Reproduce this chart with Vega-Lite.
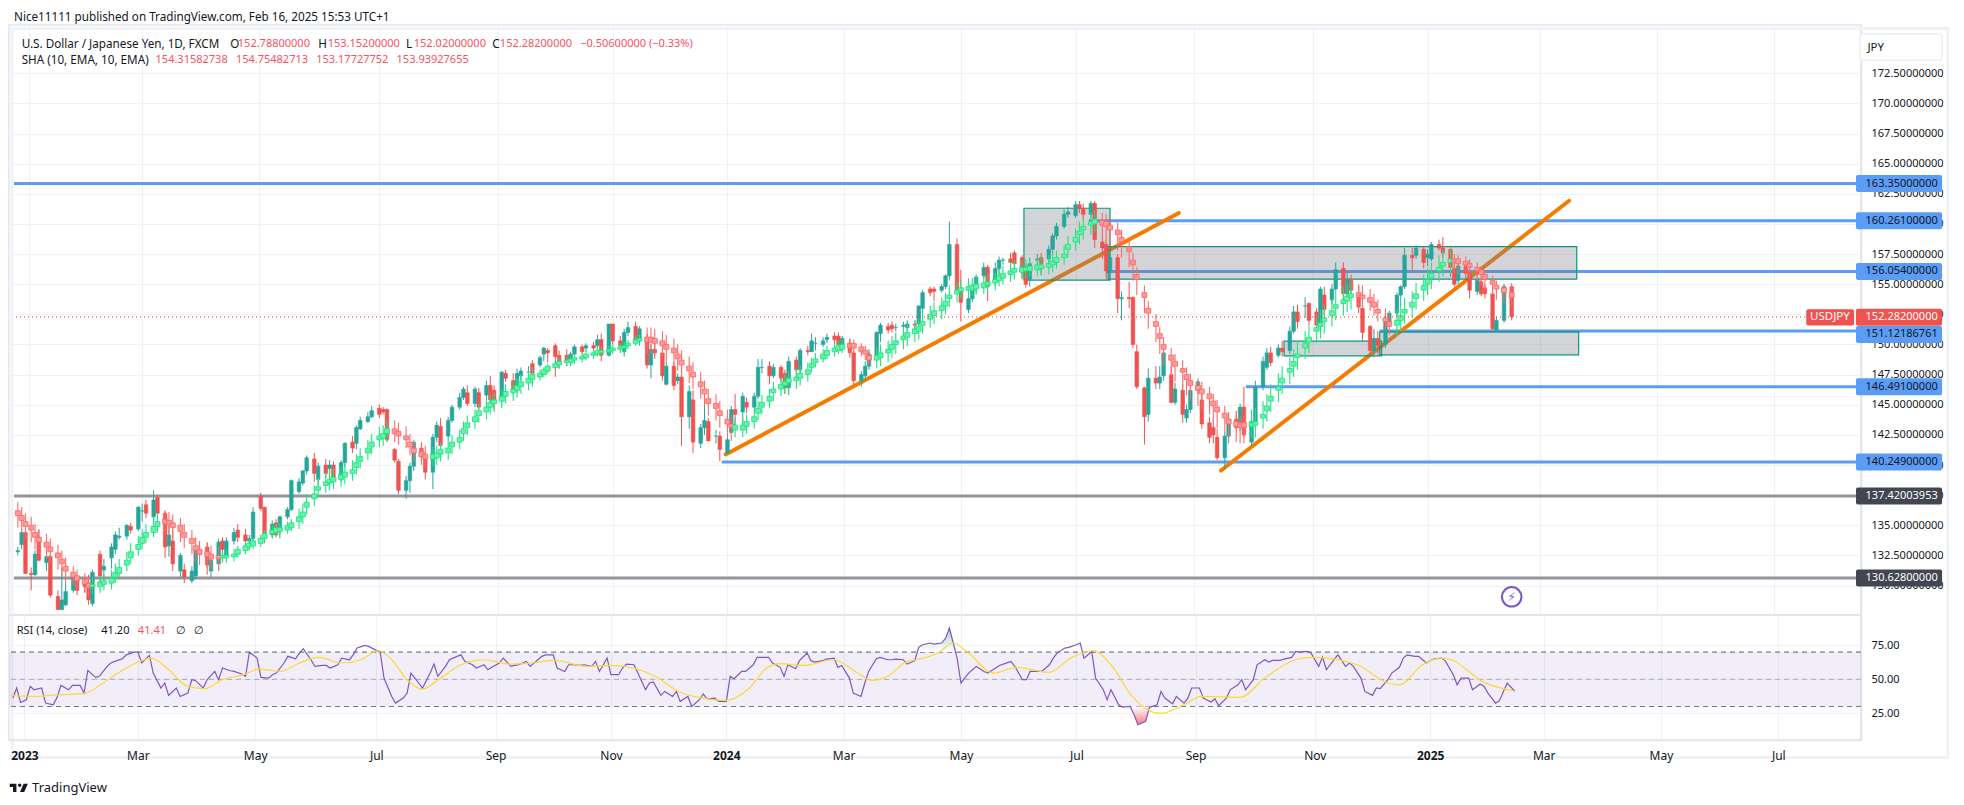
{"$schema":"https://vega.github.io/schema/vega-lite/v6.json","padding":{"left":7,"top":11,"right":0,"bottom":0},"background":"white","spacing":0,"bounds":"flush",
"config":{"view":{"stroke":"#e0e3eb","strokeWidth":1.5},"font":"Noto Sans","axis":{"labelFont":"Noto Sans"}},
"datasets":{
"bars":[
{"d":"2022-12-26","o":132.8,"h":133.2,"l":132.5,"c":132.9,"a":136.2,"e":135.8,"g":136.9,"k":134.8,"r":36.2},
{"d":"2022-12-28","o":133.4,"h":134.5,"l":133,"c":134.4,"a":135.8,"e":135.4,"g":136.5,"k":134.4,"r":43.6},
{"d":"2022-12-30","o":134.4,"h":134.5,"l":131,"c":131,"a":135.3,"e":134.9,"g":136,"k":133.9,"r":33},
{"d":"2023-01-02","o":131,"h":131.5,"l":129.6,"c":130.9,"a":135,"e":134.6,"g":135.7,"k":133.6,"r":35},
{"d":"2023-01-04","o":130.9,"h":132.9,"l":130.8,"c":132.6,"a":134.4,"e":134,"g":135.1,"k":133,"r":44.8},
{"d":"2023-01-06","o":134,"h":134.6,"l":132,"c":132.1,"a":134,"e":133.6,"g":134.7,"k":132.6,"r":42.3},
{"d":"2023-01-10","o":131.9,"h":132.6,"l":131.2,"c":132.4,"a":133.6,"e":133.2,"g":134.3,"k":132.2,"r":43.6},
{"d":"2023-01-12","o":132.4,"h":132.6,"l":129,"c":129.2,"a":133.2,"e":132.8,"g":133.9,"k":131.8,"r":32.5},
{"d":"2023-01-16","o":129.1,"h":129.6,"l":128,"c":128,"a":132.7,"e":132.3,"g":133.4,"k":131.3,"r":31.3},
{"d":"2023-01-18","o":128,"h":131.5,"l":128,"c":128.8,"a":132.2,"e":131.8,"g":132.9,"k":130.8,"r":36.7},
{"d":"2023-01-20","o":128.4,"h":130.2,"l":128.3,"c":129.5,"a":131.6,"e":131.2,"g":132.3,"k":130.2,"r":45.5},
{"d":"2023-01-24","o":129.6,"h":131,"l":129.4,"c":130.7,"a":131.1,"e":130.7,"g":131.6,"k":130,"r":42.3},
{"d":"2023-01-26","o":130.4,"h":130.8,"l":129.2,"c":129.6,"a":130.8,"e":130.4,"g":131.3,"k":129.7,"r":45.5},
{"d":"2023-01-30","o":130.2,"h":130.6,"l":129.4,"c":129.9,"a":130.5,"e":130.1,"g":131,"k":129.4,"r":45.5},
{"d":"2023-02-01","o":130.2,"h":130.9,"l":128.4,"c":128.8,"a":130.2,"e":129.8,"g":130.7,"k":129.1,"r":39.9},
{"d":"2023-02-03","o":128.5,"h":131.3,"l":128.3,"c":131.1,"a":129.9,"e":130.1,"g":130.7,"k":129.3,"r":56.6},
{"d":"2023-02-07","o":132.6,"h":132.9,"l":130,"c":130.8,"a":129.9,"e":130.3,"g":130.8,"k":129.4,"r":51.4},
{"d":"2023-02-09","o":131.3,"h":132.2,"l":130.2,"c":131.6,"a":130.1,"e":130.4,"g":130.9,"k":129.6,"r":52.2},
{"d":"2023-02-13","o":132.3,"h":133.5,"l":131.4,"c":133.2,"a":130.2,"e":130.6,"g":131.3,"k":129.7,"r":59.5},
{"d":"2023-02-15","o":133,"h":134.5,"l":132.6,"c":134.2,"a":130.7,"e":131.1,"g":131.8,"k":130.2,"r":62},
{"d":"2023-02-17","o":134,"h":134.8,"l":133.8,"c":134.1,"a":131,"e":131.5,"g":132.2,"k":130.6,"r":63.2},
{"d":"2023-02-21","o":134.1,"h":135.1,"l":133.8,"c":135,"a":131.7,"e":132.1,"g":132.8,"k":131.2,"r":65.1},
{"d":"2023-02-23","o":134.9,"h":135.2,"l":134.3,"c":134.6,"a":132.3,"e":132.8,"g":133.5,"k":131.8,"r":68},
{"d":"2023-02-27","o":134.7,"h":136.6,"l":134.5,"c":136.5,"a":133,"e":133.4,"g":134.1,"k":132.5,"r":70},
{"d":"2023-03-01","o":136.2,"h":136.8,"l":135.3,"c":136.2,"a":133.5,"e":134,"g":134.7,"k":133,"r":70},
{"d":"2023-03-03","o":136.7,"h":137.1,"l":135.6,"c":136,"a":134,"e":134.4,"g":135.1,"k":133.5,"r":62},
{"d":"2023-03-07","o":135.7,"h":137.9,"l":135.4,"c":137.1,"a":134.4,"e":134.9,"g":135.6,"k":134,"r":67.6},
{"d":"2023-03-09","o":137.3,"h":137.5,"l":135.9,"c":136,"a":134.9,"e":135.3,"g":136,"k":134.4,"r":54.6},
{"d":"2023-03-13","o":136,"h":136.2,"l":132.3,"c":133.2,"a":135.5,"e":135.1,"g":136.2,"k":134.2,"r":43.6},
{"d":"2023-03-15","o":133.3,"h":135,"l":132.4,"c":134.2,"a":135.4,"e":135.1,"g":136.1,"k":134.1,"r":47.3},
{"d":"2023-03-17","o":133.7,"h":134.6,"l":131.2,"c":131.8,"a":135.2,"e":134.8,"g":135.9,"k":133.9,"r":38.2},
{"d":"2023-03-21","o":131.2,"h":132.7,"l":130.7,"c":132.5,"a":135,"e":134.5,"g":135.6,"k":133.6,"r":43.6},
{"d":"2023-03-23","o":131.3,"h":131.8,"l":130.2,"c":130.7,"a":134.4,"e":134,"g":135.1,"k":133.1,"r":37.4},
{"d":"2023-03-27","o":130.4,"h":131.6,"l":130.2,"c":131.2,"a":133.9,"e":133.5,"g":134.6,"k":132.6,"r":39.9},
{"d":"2023-03-29","o":130.8,"h":133,"l":130.5,"c":132.9,"a":133.3,"e":132.9,"g":134,"k":132,"r":49.7},
{"d":"2023-03-31","o":132.9,"h":133.6,"l":132.2,"c":132.6,"a":133,"e":132.6,"g":133.7,"k":131.7,"r":49},
{"d":"2023-04-04","o":133.2,"h":133.6,"l":130.9,"c":131.7,"a":132.8,"e":132.4,"g":133.5,"k":131.5,"r":43.6},
{"d":"2023-04-06","o":131.2,"h":132.5,"l":130.7,"c":132.1,"a":132.6,"e":132.2,"g":133.3,"k":131.3,"r":49.7},
{"d":"2023-04-10","o":131.8,"h":133.9,"l":131.3,"c":133.6,"a":132.5,"e":132.2,"g":133.2,"k":131.2,"r":55.8},
{"d":"2023-04-12","o":133.7,"h":134,"l":132.5,"c":133,"a":132.3,"e":132.5,"g":132.9,"k":131.9,"r":49.7},
{"d":"2023-04-14","o":132.5,"h":134,"l":132.2,"c":133.7,"a":132.3,"e":132.5,"g":132.9,"k":131.9,"r":58.3},
{"d":"2023-04-18","o":133.7,"h":134.8,"l":133.4,"c":134.4,"a":132.4,"e":132.6,"g":133,"k":132,"r":56.3},
{"d":"2023-04-20","o":134.6,"h":135.1,"l":133.6,"c":134,"a":132.6,"e":133,"g":133.3,"k":132.3,"r":55.8},
{"d":"2023-04-24","o":134.2,"h":134.7,"l":133.3,"c":133.7,"a":132.9,"e":133.3,"g":133.6,"k":132.6,"r":53.9},
{"d":"2023-04-26","o":133.7,"h":134.2,"l":133,"c":133.9,"a":133.2,"e":133.5,"g":133.9,"k":132.9,"r":52.2},
{"d":"2023-04-28","o":133.9,"h":136.5,"l":133.6,"c":136.1,"a":133.3,"e":133.7,"g":134,"k":133,"r":70},
{"d":"2023-05-02","o":137.4,"h":137.7,"l":136.2,"c":136.4,"a":133.5,"e":133.9,"g":134.2,"k":133.2,"r":65.6},
{"d":"2023-05-04","o":136.5,"h":136.5,"l":133.5,"c":134.1,"a":133.9,"e":134.3,"g":134.6,"k":133.6,"r":51.4},
{"d":"2023-05-08","o":134.2,"h":135.4,"l":133.9,"c":135.1,"a":134.3,"e":134.6,"g":135,"k":134,"r":50.9},
{"d":"2023-05-10","o":135.2,"h":135.5,"l":134,"c":134.2,"a":134.4,"e":134.8,"g":135.1,"k":134.1,"r":53.4},
{"d":"2023-05-12","o":134.6,"h":135.8,"l":133.9,"c":135.7,"a":134.5,"e":134.8,"g":135.2,"k":134.2,"r":54.6},
{"d":"2023-05-16","o":135.7,"h":136.5,"l":135.5,"c":136.3,"a":134.6,"e":135,"g":135.3,"k":134.3,"r":62},
{"d":"2023-05-18","o":136.3,"h":138.8,"l":136.2,"c":138.7,"a":134.8,"e":135.2,"g":135.5,"k":134.5,"r":66.9},
{"d":"2023-05-22","o":137.8,"h":138.9,"l":137.6,"c":138.6,"a":135.3,"e":135.7,"g":136.4,"k":134.7,"r":65.1},
{"d":"2023-05-24","o":138.5,"h":139.6,"l":138.3,"c":139.5,"a":135.7,"e":136.1,"g":136.8,"k":135.1,"r":69.3},
{"d":"2023-05-26","o":139.5,"h":140.8,"l":139.2,"c":140.6,"a":136.5,"e":136.9,"g":137.6,"k":135.9,"r":72.5},
{"d":"2023-05-30","o":140.5,"h":141,"l":138.6,"c":139.3,"a":137.2,"e":137.6,"g":138.3,"k":136.6,"r":64.4},
{"d":"2023-06-01","o":138.8,"h":140.2,"l":138.3,"c":139.9,"a":137.9,"e":138.2,"g":139,"k":137.3,"r":59.5},
{"d":"2023-06-05","o":140,"h":140.5,"l":138.9,"c":139.3,"a":138.3,"e":138.6,"g":139.4,"k":137.7,"r":60.2},
{"d":"2023-06-07","o":139.7,"h":140.4,"l":138.9,"c":140,"a":138.5,"e":138.8,"g":139.6,"k":137.9,"r":60.2},
{"d":"2023-06-09","o":140,"h":140.3,"l":138.6,"c":138.8,"a":138.6,"e":139,"g":139.7,"k":138,"r":58.3},
{"d":"2023-06-13","o":138.9,"h":140.4,"l":138.6,"c":140.2,"a":138.8,"e":139.2,"g":139.9,"k":138.2,"r":60.7},
{"d":"2023-06-15","o":140.2,"h":141.9,"l":139.8,"c":141.8,"a":139,"e":139.4,"g":140.1,"k":138.4,"r":65.6},
{"d":"2023-06-19","o":141.9,"h":142.4,"l":141,"c":141.4,"a":139.3,"e":139.6,"g":140.4,"k":138.7,"r":64.4},
{"d":"2023-06-21","o":141.8,"h":143.3,"l":141.3,"c":143.1,"a":139.8,"e":140.2,"g":140.9,"k":139.2,"r":68},
{"d":"2023-06-23","o":143,"h":144,"l":142.9,"c":143.7,"a":140.3,"e":140.7,"g":141.4,"k":139.7,"r":73},
{"d":"2023-06-27","o":143.6,"h":144.4,"l":143.5,"c":144,"a":141,"e":141.4,"g":142.1,"k":140.4,"r":75},
{"d":"2023-06-29","o":144,"h":144.9,"l":143.9,"c":144.5,"a":141.5,"e":141.9,"g":142.6,"k":140.9,"r":74.2},
{"d":"2023-07-03","o":144.7,"h":145,"l":143.9,"c":144.2,"a":142.1,"e":142.4,"g":143.2,"k":141.5,"r":71.3},
{"d":"2023-07-05","o":144.6,"h":144.8,"l":144.2,"c":144.4,"a":142.2,"e":142.6,"g":143.3,"k":141.6,"r":70},
{"d":"2023-07-07","o":144.6,"h":144.7,"l":141.9,"c":142.1,"a":142.6,"e":143,"g":143.7,"k":142,"r":50.9},
{"d":"2023-07-11","o":141.3,"h":141.4,"l":140.2,"c":140.4,"a":143,"e":142.6,"g":143.7,"k":141.9,"r":37.4},
{"d":"2023-07-13","o":140.3,"h":140.5,"l":137.6,"c":137.9,"a":142.8,"e":142.4,"g":143.5,"k":141.7,"r":32.5},
{"d":"2023-07-17","o":137.9,"h":139.1,"l":137.2,"c":138.7,"a":142.4,"e":142.1,"g":143.2,"k":141.4,"r":36.2},
{"d":"2023-07-19","o":138.7,"h":140.2,"l":137.7,"c":139.9,"a":141.9,"e":141.5,"g":142.6,"k":140.8,"r":39.9},
{"d":"2023-07-21","o":139.9,"h":141.9,"l":139.5,"c":141.9,"a":141.4,"e":141,"g":142.1,"k":140.3,"r":54.6},
{"d":"2023-07-25","o":141.4,"h":141.9,"l":140.3,"c":140.8,"a":141.1,"e":140.7,"g":141.8,"k":140,"r":47.3},
{"d":"2023-07-27","o":140.8,"h":141.1,"l":138.8,"c":139.4,"a":140.9,"e":140.5,"g":141.6,"k":139.8,"r":43.6},
{"d":"2023-07-31","o":139.4,"h":142.6,"l":138,"c":142.3,"a":140.5,"e":140.9,"g":141.5,"k":139.9,"r":54.6},
{"d":"2023-08-02","o":142.3,"h":143.6,"l":141.9,"c":143.3,"a":140.6,"e":141,"g":141.6,"k":140,"r":61.2},
{"d":"2023-08-04","o":143.2,"h":143.9,"l":141.3,"c":141.6,"a":140.9,"e":141.3,"g":141.9,"k":140.3,"r":52.2},
{"d":"2023-08-08","o":142.4,"h":144,"l":142,"c":143.7,"a":141,"e":141.4,"g":142,"k":140.4,"r":59.5},
{"d":"2023-08-10","o":143.7,"h":145,"l":143.5,"c":144.8,"a":141.5,"e":141.9,"g":142.5,"k":140.9,"r":64.4},
{"d":"2023-08-14","o":144.8,"h":146,"l":144.6,"c":145.6,"a":141.9,"e":142.3,"g":142.9,"k":141.3,"r":66.9},
{"d":"2023-08-16","o":145.6,"h":146.5,"l":145.4,"c":146.3,"a":142.6,"e":143,"g":143.6,"k":142,"r":68},
{"d":"2023-08-18","o":146,"h":146.6,"l":144.9,"c":145.1,"a":143.1,"e":143.5,"g":144.1,"k":142.5,"r":63.2},
{"d":"2023-08-22","o":145.1,"h":146.5,"l":144.8,"c":146.3,"a":143.6,"e":144,"g":144.6,"k":143,"r":60.7},
{"d":"2023-08-24","o":146,"h":146.4,"l":144.6,"c":144.8,"a":144.1,"e":144.5,"g":145.1,"k":143.5,"r":58.3},
{"d":"2023-08-28","o":145.8,"h":147,"l":145.4,"c":146.6,"a":144.4,"e":144.8,"g":145.4,"k":143.8,"r":60.7},
{"d":"2023-08-30","o":146.6,"h":147.4,"l":145,"c":145.4,"a":144.8,"e":145.2,"g":145.8,"k":144.2,"r":57},
{"d":"2023-09-01","o":146.2,"h":146.6,"l":144.6,"c":145.4,"a":145.1,"e":145.4,"g":146,"k":144.4,"r":58.8},
{"d":"2023-09-05","o":145.4,"h":147.8,"l":145.2,"c":147.7,"a":145.3,"e":145.7,"g":146.3,"k":144.7,"r":62},
{"d":"2023-09-07","o":147.6,"h":147.9,"l":146.9,"c":147.2,"a":145.7,"e":146.1,"g":146.7,"k":145.1,"r":65.6},
{"d":"2023-09-11","o":147,"h":147.6,"l":145.8,"c":146.1,"a":146,"e":146.3,"g":146.9,"k":145.3,"r":59.5},
{"d":"2023-09-13","o":146.5,"h":148,"l":146,"c":147.6,"a":146.2,"e":146.6,"g":147.2,"k":145.6,"r":60.2},
{"d":"2023-09-15","o":147.4,"h":148.1,"l":147,"c":147.8,"a":146.5,"e":146.9,"g":147.5,"k":145.9,"r":60.7},
{"d":"2023-09-19","o":147.7,"h":148.2,"l":147.2,"c":147.7,"a":146.8,"e":147.2,"g":147.8,"k":146.2,"r":63.2},
{"d":"2023-09-21","o":148.4,"h":148.7,"l":146.7,"c":147.6,"a":147.1,"e":147.5,"g":148.1,"k":146.5,"r":59.5},
{"d":"2023-09-25","o":148.3,"h":149.1,"l":148.1,"c":148.9,"a":147.3,"e":147.6,"g":147.9,"k":147,"r":64.4},
{"d":"2023-09-27","o":149.2,"h":149.8,"l":148.6,"c":149.7,"a":147.5,"e":147.9,"g":148.1,"k":147.3,"r":66.9},
{"d":"2023-09-29","o":149.5,"h":149.7,"l":148.5,"c":149.3,"a":147.8,"e":148.2,"g":148.4,"k":147.6,"r":68},
{"d":"2023-10-03","o":149.9,"h":150.1,"l":147.3,"c":149,"a":148.1,"e":148.4,"g":148.7,"k":147.9,"r":68},
{"d":"2023-10-05","o":149.1,"h":149.5,"l":148,"c":148.4,"a":148.3,"e":148.6,"g":148.9,"k":148,"r":58.3},
{"d":"2023-10-09","o":149.1,"h":149.6,"l":148.2,"c":148.7,"a":148.5,"e":148.7,"g":149,"k":148.2,"r":55.8},
{"d":"2023-10-11","o":148.5,"h":149.4,"l":148.2,"c":149.2,"a":148.5,"e":148.8,"g":149.1,"k":148.3,"r":60.7},
{"d":"2023-10-13","o":149.2,"h":150,"l":149,"c":149.8,"a":148.7,"e":148.9,"g":149.2,"k":148.4,"r":60.7},
{"d":"2023-10-17","o":149.8,"h":150,"l":149.2,"c":149.4,"a":148.8,"e":149,"g":149.3,"k":148.5,"r":60.2},
{"d":"2023-10-19","o":149.7,"h":150.1,"l":149.4,"c":149.9,"a":148.9,"e":149.2,"g":149.5,"k":148.7,"r":60.7},
{"d":"2023-10-23","o":149.9,"h":150.2,"l":149.5,"c":149.7,"a":149.1,"e":149.3,"g":149.6,"k":148.8,"r":59.5},
{"d":"2023-10-25","o":149.9,"h":150.8,"l":149.6,"c":150.4,"a":149.2,"e":149.5,"g":149.8,"k":149,"r":63.2},
{"d":"2023-10-27","o":150.4,"h":150.9,"l":148.6,"c":149.1,"a":149.3,"e":149.5,"g":149.8,"k":149,"r":55.8},
{"d":"2023-10-31","o":149.1,"h":151.7,"l":149,"c":151.7,"a":149.4,"e":149.6,"g":149.9,"k":149.1,"r":65.6},
{"d":"2023-11-02","o":151.7,"h":151.7,"l":150,"c":150.3,"a":149.5,"e":149.7,"g":150,"k":149.2,"r":53.4},
{"d":"2023-11-06","o":150.3,"h":150.7,"l":149.3,"c":149.9,"a":149.6,"e":149.8,"g":150.1,"k":149.3,"r":53.4},
{"d":"2023-11-08","o":149.4,"h":151.3,"l":149,"c":151,"a":149.7,"e":149.9,"g":150.2,"k":149.4,"r":58.3},
{"d":"2023-11-10","o":151,"h":151.9,"l":150.7,"c":151.4,"a":149.9,"e":150.1,"g":150.4,"k":149.6,"r":61.2},
{"d":"2023-11-14","o":151.5,"h":151.9,"l":150,"c":150.3,"a":150.1,"e":150.4,"g":150.7,"k":149.9,"r":60.7},
{"d":"2023-11-16","o":150.3,"h":151.5,"l":149.9,"c":151.3,"a":150.3,"e":150.5,"g":150.8,"k":150,"r":54.6},
{"d":"2023-11-20","o":150.4,"h":150.9,"l":148,"c":148.3,"a":150.6,"e":150.2,"g":151.4,"k":149.2,"r":42.3},
{"d":"2023-11-22","o":148.3,"h":150,"l":147.2,"c":149.6,"a":150.6,"e":150.2,"g":151.4,"k":149.2,"r":47.3},
{"d":"2023-11-24","o":149.6,"h":150.1,"l":148.8,"c":149.3,"a":150.5,"e":150.1,"g":151.3,"k":149.1,"r":48},
{"d":"2023-11-28","o":149.3,"h":149.7,"l":147,"c":147.4,"a":150.3,"e":149.9,"g":151.1,"k":148.9,"r":38.2},
{"d":"2023-11-30","o":146.7,"h":148.6,"l":146.6,"c":148.2,"a":150,"e":149.6,"g":150.8,"k":148.6,"r":41.1},
{"d":"2023-12-04","o":148.2,"h":148.5,"l":146.2,"c":146.6,"a":149.7,"e":149.3,"g":150.5,"k":148.2,"r":37.4},
{"d":"2023-12-06","o":147,"h":147.6,"l":146.7,"c":147.3,"a":149.2,"e":148.8,"g":150,"k":147.8,"r":41.1},
{"d":"2023-12-08","o":147.3,"h":147.5,"l":141.6,"c":144,"a":148.7,"e":148.3,"g":149.5,"k":147.3,"r":33.8},
{"d":"2023-12-12","o":144,"h":146.6,"l":143,"c":146.1,"a":148.2,"e":147.8,"g":149,"k":146.8,"r":37.4},
{"d":"2023-12-14","o":145.4,"h":146.2,"l":141,"c":141.9,"a":147.7,"e":147.3,"g":148.5,"k":146.3,"r":30.1},
{"d":"2023-12-18","o":141.8,"h":143.4,"l":141.4,"c":143.1,"a":146.9,"e":146.5,"g":147.7,"k":145.5,"r":35},
{"d":"2023-12-20","o":143.1,"h":145,"l":142.5,"c":143.7,"a":146.3,"e":145.9,"g":147,"k":144.9,"r":39.2},
{"d":"2023-12-22","o":143.6,"h":143.9,"l":142,"c":142,"a":145.5,"e":145.1,"g":146.3,"k":144.1,"r":35.7},
{"d":"2023-12-26","o":142.4,"h":142.9,"l":141.8,"c":142.4,"a":145.1,"e":144.7,"g":145.9,"k":143.7,"r":36.2},
{"d":"2023-12-28","o":142.4,"h":142.8,"l":140.3,"c":141.3,"a":144.5,"e":144.1,"g":145.3,"k":143.1,"r":33.8},
{"d":"2024-01-01","o":141,"h":142.4,"l":140.9,"c":142.1,"a":143.8,"e":143.4,"g":144.6,"k":142.4,"r":33.8},
{"d":"2024-01-03","o":142.7,"h":144.9,"l":142.6,"c":144.6,"a":143.4,"e":143.1,"g":144.2,"k":142,"r":52.2},
{"d":"2024-01-05","o":144.6,"h":145.9,"l":143,"c":144.2,"a":142.9,"e":143.3,"g":143.9,"k":142.3,"r":50.4},
{"d":"2024-01-09","o":144.4,"h":146,"l":143.2,"c":145.7,"a":142.9,"e":143.3,"g":143.9,"k":142.3,"r":55.8},
{"d":"2024-01-11","o":145.2,"h":145.6,"l":144.3,"c":144.8,"a":143.2,"e":143.6,"g":144.2,"k":142.6,"r":55.8},
{"d":"2024-01-15","o":144.8,"h":146,"l":144.5,"c":145.7,"a":143.6,"e":144,"g":144.6,"k":143,"r":60.7},
{"d":"2024-01-17","o":145.7,"h":148.8,"l":145.5,"c":148.1,"a":144.3,"e":144.7,"g":145.3,"k":143.7,"r":66.1},
{"d":"2024-01-19","o":148.1,"h":148.8,"l":147.6,"c":148.1,"a":144.8,"e":145.2,"g":145.8,"k":144.2,"r":66.1},
{"d":"2024-01-23","o":148.2,"h":148.6,"l":146.7,"c":147.4,"a":145.3,"e":145.7,"g":146.3,"k":144.7,"r":66.1},
{"d":"2024-01-25","o":147.4,"h":148.4,"l":147.2,"c":148.1,"a":146,"e":146.3,"g":146.9,"k":145.3,"r":62},
{"d":"2024-01-29","o":148.1,"h":148.3,"l":146.9,"c":147.2,"a":146.3,"e":146.7,"g":147.3,"k":145.7,"r":58.8},
{"d":"2024-01-31","o":147.6,"h":147.9,"l":145.9,"c":146.4,"a":146.6,"e":146.9,"g":147.5,"k":145.9,"r":52.2},
{"d":"2024-02-02","o":146.4,"h":149,"l":145.8,"c":148.6,"a":146.8,"e":147.2,"g":147.8,"k":146.2,"r":60.7},
{"d":"2024-02-06","o":148.7,"h":149,"l":147.4,"c":147.9,"a":147,"e":147.3,"g":148,"k":146.3,"r":57.8},
{"d":"2024-02-08","o":147.9,"h":149.7,"l":147.5,"c":149.5,"a":147.2,"e":147.6,"g":148.2,"k":146.6,"r":63.7},
{"d":"2024-02-12","o":149.5,"h":149.9,"l":149.1,"c":149.4,"a":147.5,"e":147.9,"g":148.5,"k":146.9,"r":69.3},
{"d":"2024-02-14","o":149.4,"h":150.9,"l":149.4,"c":150.3,"a":148.1,"e":148.4,"g":148.9,"k":147.7,"r":63.7},
{"d":"2024-02-16","o":150.1,"h":150.6,"l":149.5,"c":150.1,"a":148.5,"e":148.8,"g":149.3,"k":148.1,"r":62.7},
{"d":"2024-02-20","o":150,"h":150.6,"l":149.8,"c":150.3,"a":148.8,"e":149.2,"g":149.6,"k":148.5,"r":63.7},
{"d":"2024-02-22","o":150.4,"h":150.9,"l":150.1,"c":150.6,"a":149.1,"e":149.5,"g":149.9,"k":148.8,"r":64.9},
{"d":"2024-02-26","o":150.7,"h":151,"l":150,"c":150.4,"a":149.4,"e":149.7,"g":150.1,"k":149,"r":65.6},
{"d":"2024-02-28","o":150.7,"h":151,"l":149.9,"c":150,"a":149.5,"e":149.9,"g":150.3,"k":149.2,"r":58.8},
{"d":"2024-03-01","o":150,"h":150.7,"l":149.5,"c":150.5,"a":149.6,"e":150,"g":150.4,"k":149.3,"r":60.2},
{"d":"2024-03-05","o":150.1,"h":150.5,"l":148.9,"c":149.3,"a":150.1,"e":149.7,"g":150.4,"k":149.3,"r":50.9},
{"d":"2024-03-07","o":149.3,"h":149.5,"l":146.6,"c":147,"a":150.1,"e":149.7,"g":150.4,"k":149.3,"r":39.9},
{"d":"2024-03-11","o":147,"h":147.8,"l":146.5,"c":147.5,"a":149.8,"e":149.4,"g":150.1,"k":149,"r":37.4},
{"d":"2024-03-13","o":147.4,"h":148.6,"l":147,"c":148.2,"a":149.5,"e":149.2,"g":149.9,"k":148.7,"r":47.3},
{"d":"2024-03-15","o":148.2,"h":149.6,"l":147.9,"c":149.2,"a":149.1,"e":148.7,"g":149.4,"k":148.3,"r":55.8},
{"d":"2024-03-19","o":149.1,"h":151.1,"l":148.8,"c":151,"a":148.7,"e":149.1,"g":149.8,"k":148,"r":65.1},
{"d":"2024-03-21","o":150.9,"h":151.8,"l":150.2,"c":151.6,"a":148.9,"e":149.3,"g":150,"k":148.2,"r":66.1},
{"d":"2024-03-25","o":151.5,"h":151.8,"l":150.9,"c":151.2,"a":149.3,"e":149.6,"g":150.3,"k":148.5,"r":64.4},
{"d":"2024-03-27","o":151.6,"h":151.9,"l":151,"c":151.3,"a":149.6,"e":150,"g":150.7,"k":148.9,"r":64.4},
{"d":"2024-03-29","o":151.4,"h":151.7,"l":151.1,"c":151.4,"a":150,"e":150.3,"g":151,"k":149.2,"r":64.9},
{"d":"2024-04-02","o":151.5,"h":151.9,"l":151.2,"c":151.6,"a":150.4,"e":150.7,"g":151.4,"k":149.6,"r":64.4},
{"d":"2024-04-04","o":151.4,"h":152,"l":150.9,"c":151.7,"a":150.6,"e":151,"g":151.7,"k":149.9,"r":61.2},
{"d":"2024-04-08","o":151.7,"h":152,"l":151.3,"c":151.6,"a":150.9,"e":151.3,"g":152,"k":150.2,"r":63.7},
{"d":"2024-04-10","o":151.7,"h":153.2,"l":151.5,"c":153.2,"a":151.1,"e":151.5,"g":152.2,"k":150.4,"r":73.5},
{"d":"2024-04-12","o":153,"h":154.5,"l":152.6,"c":154.3,"a":151.6,"e":151.9,"g":152.7,"k":150.9,"r":75.4},
{"d":"2024-04-16","o":154.6,"h":154.8,"l":154,"c":154.3,"a":152.1,"e":152.5,"g":153.2,"k":151.4,"r":76.7},
{"d":"2024-04-18","o":154.6,"h":154.8,"l":153.6,"c":154.4,"a":152.4,"e":152.8,"g":153.5,"k":151.7,"r":75.9},
{"d":"2024-04-22","o":154.5,"h":155,"l":154.3,"c":154.8,"a":152.8,"e":153.2,"g":153.9,"k":152.1,"r":76.7},
{"d":"2024-04-24","o":154.8,"h":155.8,"l":154.6,"c":155.7,"a":153.2,"e":153.6,"g":154.3,"k":152.5,"r":80.3},
{"d":"2024-04-26","o":155.7,"h":160.2,"l":155.3,"c":158.3,"a":153.8,"e":154.1,"g":154.9,"k":153.1,"r":87.7},
{"d":"2024-04-30","o":158.3,"h":158.8,"l":154.5,"c":154.5,"a":154.2,"e":154.5,"g":155.2,"k":153.5,"r":65.6},
{"d":"2024-05-02","o":154.6,"h":156.2,"l":151.9,"c":153.5,"a":154.4,"e":154.7,"g":155.4,"k":153.8,"r":47.3},
{"d":"2024-05-06","o":152.9,"h":154.2,"l":152.6,"c":153.8,"a":154.5,"e":154.8,"g":155.5,"k":153.9,"r":54.6},
{"d":"2024-05-08","o":153.8,"h":155,"l":153.5,"c":154.6,"a":154.5,"e":154.9,"g":155.5,"k":154,"r":57},
{"d":"2024-05-10","o":154.7,"h":155.8,"l":154.3,"c":155.6,"a":154.6,"e":155,"g":155.6,"k":154.1,"r":59.5},
{"d":"2024-05-14","o":155.7,"h":156.8,"l":155.5,"c":156.4,"a":154.7,"e":155.1,"g":155.7,"k":154.2,"r":55.8},
{"d":"2024-05-16","o":156.4,"h":156.6,"l":153.6,"c":154.8,"a":154.9,"e":155.2,"g":155.9,"k":154.3,"r":54.6},
{"d":"2024-05-20","o":155.2,"h":156.8,"l":154.9,"c":156.3,"a":155.1,"e":155.4,"g":156,"k":154.5,"r":58.3},
{"d":"2024-05-22","o":156.3,"h":157.3,"l":155.8,"c":157,"a":155.3,"e":155.7,"g":156.3,"k":154.8,"r":60.2},
{"d":"2024-05-24","o":157,"h":157.2,"l":156.6,"c":157,"a":155.5,"e":155.9,"g":156.5,"k":155,"r":61.2},
{"d":"2024-05-28","o":157.1,"h":157.6,"l":156.3,"c":156.8,"a":155.8,"e":156.1,"g":156.8,"k":155.2,"r":63.2},
{"d":"2024-05-30","o":157.6,"h":157.8,"l":156.2,"c":156.7,"a":156,"e":156.3,"g":157,"k":155.4,"r":59.5},
{"d":"2024-06-03","o":157.2,"h":157.4,"l":155.4,"c":156,"a":156,"e":156.4,"g":157,"k":155.5,"r":49.7},
{"d":"2024-06-05","o":156.1,"h":156.6,"l":154.7,"c":155,"a":156.1,"e":156.4,"g":157.1,"k":155.5,"r":49.7},
{"d":"2024-06-07","o":155.4,"h":157.2,"l":154.8,"c":156.7,"a":156.1,"e":156.5,"g":157.1,"k":155.6,"r":55.8},
{"d":"2024-06-11","o":157,"h":157.5,"l":156.6,"c":157.1,"a":156.2,"e":156.6,"g":157.2,"k":155.7,"r":55.8},
{"d":"2024-06-13","o":157.2,"h":157.6,"l":155.8,"c":156.7,"a":156.3,"e":156.6,"g":157.3,"k":155.7,"r":55.8},
{"d":"2024-06-17","o":157.1,"h":158.2,"l":156.8,"c":157.9,"a":156.4,"e":156.7,"g":157.4,"k":155.8,"r":60.7},
{"d":"2024-06-19","o":157.9,"h":159.2,"l":157.6,"c":159,"a":156.6,"e":156.9,"g":157.6,"k":156,"r":65.6},
{"d":"2024-06-21","o":159,"h":160.1,"l":158.7,"c":159.8,"a":156.8,"e":157.2,"g":157.8,"k":156.3,"r":69.3},
{"d":"2024-06-25","o":159.8,"h":161.2,"l":159.6,"c":160.8,"a":157.2,"e":157.5,"g":158.2,"k":156.6,"r":73},
{"d":"2024-06-27","o":160.8,"h":161.4,"l":160.5,"c":161,"a":157.9,"e":158.3,"g":159,"k":157.2,"r":73.5},
{"d":"2024-07-01","o":160.7,"h":161.9,"l":160.5,"c":161.6,"a":158.5,"e":158.9,"g":159.6,"k":157.8,"r":75.4},
{"d":"2024-07-03","o":161.6,"h":161.9,"l":160.9,"c":161.3,"a":159.1,"e":159.4,"g":160.2,"k":158.3,"r":76.7},
{"d":"2024-07-05","o":161.3,"h":161.7,"l":160.3,"c":160.8,"a":159.5,"e":159.8,"g":160.5,"k":158.7,"r":65.6},
{"d":"2024-07-09","o":160.8,"h":161.9,"l":160.5,"c":161.7,"a":159.9,"e":160.2,"g":161,"k":159.1,"r":70.5},
{"d":"2024-07-11","o":161.7,"h":161.9,"l":158,"c":158.7,"a":160,"e":160.4,"g":161.1,"k":159.3,"r":50.9},
{"d":"2024-07-15","o":158.5,"h":158.9,"l":157.1,"c":158,"a":160.3,"e":159.9,"g":160.9,"k":158.6,"r":42.3},
{"d":"2024-07-17","o":158.3,"h":158.7,"l":155.3,"c":156.1,"a":160.2,"e":159.8,"g":160.8,"k":158.5,"r":35},
{"d":"2024-07-19","o":156.1,"h":157.6,"l":155.8,"c":157.2,"a":159.9,"e":159.5,"g":160.5,"k":158.2,"r":42.3},
{"d":"2024-07-23","o":157.2,"h":157.5,"l":152.6,"c":153.8,"a":159.5,"e":159.1,"g":160.1,"k":157.8,"r":31.3},
{"d":"2024-07-25","o":153.8,"h":154.4,"l":152,"c":153.9,"a":158.9,"e":158.5,"g":159.5,"k":157.2,"r":29.6},
{"d":"2024-07-29","o":153.9,"h":155.2,"l":153,"c":153.8,"a":158.1,"e":157.7,"g":158.7,"k":156.4,"r":30.1},
{"d":"2024-07-31","o":153.9,"h":154,"l":149.7,"c":150,"a":157,"e":156.6,"g":157.6,"k":155.3,"r":24},
{"d":"2024-08-02","o":149.4,"h":150,"l":146.3,"c":146.5,"a":155.8,"e":155.4,"g":156.4,"k":154.1,"r":16.6},
{"d":"2024-08-06","o":146.4,"h":146.5,"l":141.7,"c":144,"a":154.3,"e":153.9,"g":154.9,"k":152.6,"r":19.1},
{"d":"2024-08-08","o":144.2,"h":148,"l":143.6,"c":147.2,"a":153,"e":152.6,"g":153.6,"k":151.3,"r":29.4},
{"d":"2024-08-12","o":147.2,"h":148.2,"l":146.3,"c":146.8,"a":151.9,"e":151.5,"g":152.5,"k":150.2,"r":31.3},
{"d":"2024-08-14","o":146.8,"h":148.2,"l":146.3,"c":147.3,"a":150.9,"e":150.5,"g":151.5,"k":149.2,"r":41.1},
{"d":"2024-08-16","o":147.4,"h":149.6,"l":147,"c":149.3,"a":150,"e":149.6,"g":150.6,"k":148.3,"r":36.2},
{"d":"2024-08-20","o":147.5,"h":148.2,"l":145.1,"c":145.2,"a":149.1,"e":148.7,"g":149.7,"k":147.4,"r":32},
{"d":"2024-08-22","o":145.2,"h":146.8,"l":145,"c":146.3,"a":148.6,"e":148.2,"g":149.2,"k":146.9,"r":37.4},
{"d":"2024-08-26","o":146.2,"h":146.7,"l":143.5,"c":144.2,"a":148,"e":147.7,"g":148.7,"k":146.4,"r":32.5},
{"d":"2024-08-28","o":143.9,"h":145,"l":143.5,"c":144.6,"a":147.5,"e":147.1,"g":148.1,"k":145.8,"r":36.2},
{"d":"2024-08-30","o":144.6,"h":146.7,"l":144.3,"c":146.2,"a":147,"e":146.6,"g":147.6,"k":145.3,"r":43.6},
{"d":"2024-09-03","o":146.2,"h":147,"l":145.9,"c":146.9,"a":146.6,"e":146.2,"g":147.2,"k":144.9,"r":43.6},
{"d":"2024-09-05","o":145.4,"h":146,"l":143,"c":143.4,"a":146.3,"e":145.9,"g":146.9,"k":144.6,"r":36.2},
{"d":"2024-09-09","o":143.5,"h":144,"l":141.8,"c":142.3,"a":145.9,"e":145.5,"g":146.5,"k":144.2,"r":33.3},
{"d":"2024-09-11","o":143.1,"h":143.8,"l":141.8,"c":142.5,"a":145.3,"e":144.9,"g":145.9,"k":143.6,"r":35.7},
{"d":"2024-09-13","o":142.3,"h":143,"l":140.4,"c":140.6,"a":144.8,"e":144.4,"g":145.4,"k":143.1,"r":30.6},
{"d":"2024-09-17","o":140.6,"h":142.7,"l":139.6,"c":142.4,"a":144.3,"e":143.9,"g":144.9,"k":142.6,"r":36.2},
{"d":"2024-09-19","o":142.4,"h":144.2,"l":141.8,"c":143.8,"a":143.8,"e":143.4,"g":144.4,"k":142.1,"r":42.3},
{"d":"2024-09-23","o":143.8,"h":144.5,"l":142.8,"c":143.1,"a":143.6,"e":143.2,"g":144.2,"k":141.9,"r":46},
{"d":"2024-09-25","o":143.1,"h":145.1,"l":142.8,"c":144.8,"a":143.5,"e":143.1,"g":144.1,"k":141.8,"r":49.7},
{"d":"2024-09-27","o":144.8,"h":146.5,"l":142.3,"c":142.5,"a":143.5,"e":143.1,"g":144.1,"k":141.8,"r":42.3},
{"d":"2024-10-01","o":141.9,"h":144.2,"l":141.6,"c":143.6,"a":143.2,"e":143.5,"g":144.6,"k":142.2,"r":49.7},
{"d":"2024-10-03","o":143.6,"h":147,"l":143.3,"c":146.5,"a":143.3,"e":143.6,"g":144.7,"k":142.3,"r":60.7},
{"d":"2024-10-07","o":146.5,"h":149,"l":146.2,"c":148.6,"a":143.9,"e":144.2,"g":145.3,"k":143,"r":64.4},
{"d":"2024-10-09","o":148.1,"h":149.7,"l":147.9,"c":149.3,"a":144.5,"e":144.9,"g":145.9,"k":143.6,"r":62.7},
{"d":"2024-10-11","o":149.3,"h":149.8,"l":148.2,"c":148.5,"a":145.3,"e":145.7,"g":146.7,"k":144.4,"r":63.9},
{"d":"2024-10-15","o":149.1,"h":150,"l":148.9,"c":149.7,"a":146.2,"e":146.5,"g":147.6,"k":145.2,"r":63.9},
{"d":"2024-10-17","o":149.7,"h":150.3,"l":149,"c":149.4,"a":146.8,"e":147.2,"g":148.2,"k":145.9,"r":64.9},
{"d":"2024-10-21","o":149.5,"h":151.5,"l":149.2,"c":151.1,"a":147.7,"e":148,"g":149,"k":146.7,"r":66.1},
{"d":"2024-10-23","o":151.1,"h":153.2,"l":150.9,"c":152.7,"a":148.2,"e":148.6,"g":149.6,"k":147.3,"r":70.5},
{"d":"2024-10-25","o":152.7,"h":153.3,"l":151.3,"c":151.9,"a":148.9,"e":149.2,"g":150.3,"k":147.9,"r":70},
{"d":"2024-10-29","o":153.2,"h":153.9,"l":152.2,"c":153.2,"a":149.7,"e":150.1,"g":151.1,"k":148.8,"r":70.5},
{"d":"2024-10-31","o":153.4,"h":153.5,"l":151.6,"c":152,"a":150.2,"e":150.6,"g":151.6,"k":149.3,"r":69.3},
{"d":"2024-11-04","o":152.7,"h":153,"l":151.4,"c":151.6,"a":151.1,"e":151.4,"g":152.5,"k":150.1,"r":59.5},
{"d":"2024-11-06","o":151.5,"h":154.8,"l":151.2,"c":154.6,"a":151.5,"e":151.8,"g":152.9,"k":150.5,"r":66.4},
{"d":"2024-11-08","o":154.1,"h":154.8,"l":152.4,"c":152.9,"a":151.9,"e":152.2,"g":153.3,"k":150.9,"r":57},
{"d":"2024-11-12","o":153.7,"h":155,"l":153.3,"c":154.6,"a":152.4,"e":152.8,"g":153.8,"k":151.5,"r":64.4},
{"d":"2024-11-14","o":154.6,"h":156.8,"l":154.4,"c":156.2,"a":153,"e":153.3,"g":154.4,"k":152,"r":68},
{"d":"2024-11-18","o":156.3,"h":156.8,"l":153.7,"c":154.2,"a":153.4,"e":153.7,"g":154.8,"k":152.4,"r":59.5},
{"d":"2024-11-20","o":154.2,"h":156,"l":153.9,"c":155.4,"a":153.6,"e":154,"g":155,"k":152.7,"r":62},
{"d":"2024-11-22","o":155.4,"h":155.8,"l":154,"c":154.5,"a":153.9,"e":154.2,"g":155.3,"k":152.9,"r":59.5},
{"d":"2024-11-26","o":154.1,"h":154.9,"l":152.6,"c":153.1,"a":154.3,"e":153.9,"g":155,"k":153.1,"r":50.9},
{"d":"2024-11-28","o":153,"h":153.3,"l":150.3,"c":151,"a":154.1,"e":153.8,"g":154.9,"k":153,"r":41.1},
{"d":"2024-12-02","o":151.5,"h":151.6,"l":149.1,"c":149.5,"a":153.9,"e":153.5,"g":154.6,"k":152.8,"r":38.2},
{"d":"2024-12-04","o":149.5,"h":151.3,"l":148.9,"c":150.5,"a":153.5,"e":153.1,"g":154.2,"k":152.4,"r":43.6},
{"d":"2024-12-06","o":150.5,"h":151.1,"l":149,"c":149.9,"a":152.9,"e":152.6,"g":153.7,"k":151.9,"r":43.1},
{"d":"2024-12-10","o":150,"h":152.5,"l":149.7,"c":151.9,"a":152.2,"e":151.9,"g":153,"k":151.2,"r":49.7},
{"d":"2024-12-12","o":151.8,"h":152.8,"l":151.6,"c":152.6,"a":151.9,"e":151.5,"g":152.6,"k":150.8,"r":54.6},
{"d":"2024-12-16","o":152.6,"h":154.3,"l":152.3,"c":154.1,"a":151.6,"e":152,"g":152.9,"k":150.7,"r":58.8},
{"d":"2024-12-18","o":154.1,"h":154.9,"l":153.2,"c":154.8,"a":152,"e":152.4,"g":153.3,"k":151.1,"r":65.6},
{"d":"2024-12-20","o":154.8,"h":158,"l":154.6,"c":157.4,"a":152.6,"e":152.9,"g":153.9,"k":151.7,"r":68},
{"d":"2024-12-24","o":157.4,"h":158,"l":156.2,"c":157.2,"a":153.1,"e":153.5,"g":154.4,"k":152.2,"r":66.9},
{"d":"2024-12-26","o":157.4,"h":158.2,"l":157.1,"c":158,"a":153.8,"e":154.2,"g":155.1,"k":152.9,"r":66.9},
{"d":"2024-12-30","o":157.9,"h":158.1,"l":156.3,"c":156.8,"a":154.5,"e":154.9,"g":155.8,"k":153.6,"r":62},
{"d":"2025-01-01","o":157.2,"h":157.9,"l":156.5,"c":157.5,"a":155,"e":155.4,"g":156.3,"k":154.1,"r":63.7},
{"d":"2025-01-03","o":157.1,"h":158.5,"l":156.9,"c":158.3,"a":155.5,"e":155.9,"g":156.8,"k":154.6,"r":65.1},
{"d":"2025-01-07","o":158.3,"h":158.7,"l":157.8,"c":158,"a":156.1,"e":156.4,"g":157.4,"k":155.2,"r":65.6},
{"d":"2025-01-09","o":158,"h":158.9,"l":157.2,"c":157.6,"a":156.5,"e":156.8,"g":157.8,"k":155.6,"r":63.2},
{"d":"2025-01-13","o":157.9,"h":158.2,"l":155.6,"c":156.4,"a":156.8,"e":157.1,"g":158.1,"k":155.9,"r":53.4},
{"d":"2025-01-15","o":156.3,"h":156.6,"l":154.8,"c":155,"a":157.1,"e":156.8,"g":157.5,"k":155.9,"r":46},
{"d":"2025-01-17","o":155.3,"h":156.9,"l":155,"c":156.5,"a":157.1,"e":156.7,"g":157.4,"k":155.8,"r":50.9},
{"d":"2025-01-21","o":156.5,"h":156.8,"l":155.5,"c":155.9,"a":156.9,"e":156.6,"g":157.3,"k":155.7,"r":50.9},
{"d":"2025-01-23","o":156,"h":156.4,"l":153.8,"c":154.5,"a":156.7,"e":156.4,"g":157.1,"k":155.5,"r":42.3},
{"d":"2025-01-27","o":154.4,"h":155.7,"l":154.1,"c":155.4,"a":156.4,"e":156.1,"g":156.8,"k":155.2,"r":46.5},
{"d":"2025-01-29","o":155.2,"h":155.4,"l":154,"c":154.2,"a":156.2,"e":155.8,"g":156.5,"k":154.9,"r":44.8},
{"d":"2025-01-31","o":154.7,"h":155,"l":153.8,"c":154.2,"a":155.8,"e":155.4,"g":156.1,"k":154.5,"r":39.9},
{"d":"2025-02-04","o":154.2,"h":154.4,"l":151.2,"c":151.3,"a":155.3,"e":155,"g":155.7,"k":154.1,"r":32.5},
{"d":"2025-02-06","o":151.2,"h":152.3,"l":151,"c":152,"a":154.9,"e":154.6,"g":155.3,"k":153.7,"r":34.3},
{"d":"2025-02-10","o":152,"h":155,"l":151.8,"c":154.8,"a":154.7,"e":154.3,"g":155,"k":153.4,"r":47.3},
{"d":"2025-02-14","o":154.8,"h":155.1,"l":152,"c":152.3,"a":154.3,"e":153.9,"g":154.8,"k":153.2,"r":41.2}
],
"ma":[
{"d":"2022-12-25","m":38.2},{"d":"2023-01-06","m":37.4},{"d":"2023-01-14","m":38.2},{"d":"2023-02-02","m":39.9},{"d":"2023-02-10","m":46.5},{"d":"2023-02-20","m":55.8},{"d":"2023-02-28","m":62},{"d":"2023-03-08","m":65.6},{"d":"2023-03-16","m":58.3},{"d":"2023-03-27","m":44.8},{"d":"2023-04-05","m":43.1},{"d":"2023-04-14","m":49.7},{"d":"2023-04-25","m":53.4},{"d":"2023-05-03","m":57.5},{"d":"2023-05-14","m":55.8},{"d":"2023-05-24","m":62},{"d":"2023-06-03","m":66.1},{"d":"2023-06-15","m":62},{"d":"2023-06-25","m":64.4},{"d":"2023-07-04","m":71},{"d":"2023-07-11","m":64.4},{"d":"2023-07-19","m":49.7},{"d":"2023-07-27","m":42.8},{"d":"2023-08-05","m":50.4},{"d":"2023-08-16","m":60.7},{"d":"2023-08-28","m":64.4},{"d":"2023-09-10","m":61.2},{"d":"2023-09-21","m":62},{"d":"2023-10-04","m":63.9},{"d":"2023-10-20","m":59.5},{"d":"2023-11-02","m":60.2},{"d":"2023-11-15","m":57.8},{"d":"2023-11-26","m":51.4},{"d":"2023-12-07","m":41.1},{"d":"2023-12-20","m":36.2},{"d":"2024-01-01","m":34.5},{"d":"2024-01-13","m":43.6},{"d":"2024-01-22","m":58.3},{"d":"2024-01-29","m":61.5},{"d":"2024-02-10","m":60.2},{"d":"2024-02-26","m":64.4},{"d":"2024-03-08","m":55.8},{"d":"2024-03-17","m":49.2},{"d":"2024-03-25","m":52.2},{"d":"2024-04-04","m":63.2},{"d":"2024-04-09","m":64.4},{"d":"2024-04-20","m":69.3},{"d":"2024-04-28","m":76.7},{"d":"2024-05-05","m":70.5},{"d":"2024-05-19","m":54.6},{"d":"2024-05-31","m":58.8},{"d":"2024-06-17","m":55.1},{"d":"2024-06-28","m":65.6},{"d":"2024-07-10","m":71},{"d":"2024-07-19","m":60.7},{"d":"2024-07-30","m":37.4},{"d":"2024-08-07","m":27.6},{"d":"2024-08-14","m":24.9},{"d":"2024-08-26","m":31.3},{"d":"2024-09-04","m":37.4},{"d":"2024-09-24","m":36.7},{"d":"2024-10-07","m":50.9},{"d":"2024-10-23","m":64.4},{"d":"2024-11-01","m":66.1},{"d":"2024-11-24","m":60.7},{"d":"2024-12-10","m":47.3},{"d":"2024-12-16","m":46},{"d":"2024-12-28","m":60.7},{"d":"2025-01-06","m":65.6},{"d":"2025-01-12","m":64.4},{"d":"2025-01-28","m":48.5},{"d":"2025-02-09","m":42.8},{"d":"2025-02-14","m":41.41}
],
"levels":[
{"p":163.35,"t":"163.35000000","k":"blue"},{"p":160.261,"t":"160.26100000","k":"blue"},{"p":156.054,"t":"156.05400000","k":"blue"},{"p":150.83,"t":"151.12186761","k":"blue"},{"p":146.491,"t":"146.49100000","k":"blue"},{"p":140.249,"t":"140.24900000","k":"blue"},{"p":137.42,"t":"137.42003953","k":"slate"},{"p":130.628,"t":"130.62800000","k":"slate"},{"p":152.25,"t":"152.28200000","k":"red"}
],
"lines":[
{"s":"2022-12-24","p":163.35,"k":"blue"},{"s":"2024-07-08","p":160.261,"k":"blue"},{"s":"2024-07-17","p":156.054,"k":"blue"},{"s":"2024-12-07","p":151.12186761,"k":"blue"},{"s":"2024-09-28","p":146.491,"k":"blue"},{"s":"2023-12-29","p":140.249,"k":"blue"},{"s":"2022-12-24","p":137.42003953,"k":"slate"},{"s":"2022-12-24","p":130.628,"k":"slate"}
],
"trend":[
{"d":"2023-12-31","p":140.88,"n":"a"},{"d":"2024-08-24","p":160.9,"n":"a"},{"d":"2024-09-15","p":139.54,"n":"b"},{"d":"2025-03-16","p":161.92,"n":"b"}
],
"zones":[
{"s":"2024-06-04","e":"2024-07-19","t":161.3,"b":155.34},{"s":"2024-07-18","e":"2025-03-20","t":158.11,"b":155.42},{"s":"2024-10-18","e":"2024-12-08","t":150.28,"b":149.06},{"s":"2024-12-07","e":"2025-03-21","t":151.05,"b":149.14}
],
"head":[
{"x":"2022-12-24","y":177.15,"t":"Nice11111 published on TradingView.com, Feb 16, 2025 15:53 UTC+1","k":"ink"},
{"x":"2022-12-28","y":174.95,"t":"U.S. Dollar / Japanese Yen, 1D, FXCM","k":"ink"},
{"x":"2023-04-16","y":174.95,"t":"O","k":"ink"},{"x":"2023-04-20","y":174.95,"t":"152.78800000","k":"down"},
{"x":"2023-06-01","y":174.95,"t":"H","k":"ink"},{"x":"2023-06-06","y":174.95,"t":"153.15200000","k":"down"},
{"x":"2023-07-17","y":174.95,"t":"L","k":"ink"},{"x":"2023-07-21","y":174.95,"t":"152.02000000","k":"down"},
{"x":"2023-08-31","y":174.95,"t":"C","k":"ink"},{"x":"2023-09-04","y":174.95,"t":"152.28200000","k":"down"},
{"x":"2023-10-16","y":174.95,"t":"−0.50600000 (−0.33%)","k":"down"},
{"x":"2022-12-28","y":173.56,"t":"SHA (10, EMA, 10, EMA)","k":"ink"},
{"x":"2023-03-08","y":173.56,"t":"154.31582738","k":"down"},{"x":"2023-04-19","y":173.56,"t":"154.75482713","k":"down"},{"x":"2023-05-31","y":173.56,"t":"153.17727752","k":"down"},{"x":"2023-07-12","y":173.56,"t":"153.93927655","k":"down"}
],
"rsiHead":[
{"x":"2022-12-28","t":"RSI (14, close)","k":"ink"},{"x":"2023-02-10","t":"41.20","k":"purple"},{"x":"2023-03-01","t":"41.41","k":"yellow"},{"x":"2023-03-21","t":"∅","k":"ink"},{"x":"2023-03-30","t":"∅","k":"ink"}
],
"os":[{"d":"2024-07-25","r":30},{"d":"2024-07-29","r":30},{"d":"2024-07-31","r":24},{"d":"2024-08-02","r":16.6},{"d":"2024-08-06","r":19.1},{"d":"2024-08-08","r":29.4},{"d":"2024-08-09","r":30}],
"ob":[{"d":"2024-04-10","r":73.5},{"d":"2024-04-12","r":75.4},{"d":"2024-04-16","r":76.7},{"d":"2024-04-18","r":75.9},{"d":"2024-04-22","r":76.7},{"d":"2024-04-24","r":80.3},{"d":"2024-04-26","r":87.7},{"d":"2024-04-30","r":70}],
"one":[{"n":1}]
},
"vconcat":[
{"width":1852,"height":590,"layer":[
{"data":{"name":"lines"},"mark":{"type":"rule","strokeWidth":3},"encoding":{
 "x":{"field":"s","type":"temporal","scale":{"domain":["2022-12-24","2025-08-13"],"nice":false},"title":null,"axis":{"values":["2023-01-01","2023-03-01","2023-05-01","2023-07-03","2023-09-03","2023-11-02","2024-01-01","2024-03-02","2024-05-02","2024-07-01","2024-09-01","2024-11-02","2025-01-01","2025-03-01","2025-05-01","2025-07-01"],"tickCount":40,"labels":false,"ticks":false,"domain":false,"grid":true,"gridColor":"#f0f1f5","gridWidth":1.2,"title":null}},
 "x2":{"datum":{"year":2025,"month":8,"date":13}},
 "y":{"field":"p","type":"quantitative","scale":{"domain":[127.97,176.09],"nice":false,"zero":false},"title":null,"axis":{"orient":"right","values":[130,132.5,135,137.5,140,142.5,145,147.5,150,152.5,155,157.5,160,162.5,165,167.5,170,172.5],"tickCount":40,"format":".8f","labelOverlap":false,"grid":true,"gridColor":"#f0f1f5","gridWidth":1.2,"ticks":false,"domainColor":"#e0e3eb","domainWidth":1.5,"labelPadding":10,"labelColor":"#131722","labelFontSize":11,"labelFont":"Noto Sans","title":null}},
 "stroke":{"field":"k","type":"nominal","legend":null,"scale":{"domain":["blue","slate"],"range":["#5b9cf6","#93949c"]}}}},
{"data":{"name":"trend"},"mark":{"type":"line","strokeWidth":4,"color":"#f57c00","strokeCap":"round"},"encoding":{"x":{"field":"d","type":"temporal"},"y":{"field":"p","type":"quantitative"},"detail":{"field":"n"}}},
{"data":{"name":"zones"},"mark":{"type":"rect","fill":"#787b86","fillOpacity":0.33,"stroke":"#089981","strokeWidth":1.2},"encoding":{"x":{"field":"s","type":"temporal"},"x2":{"field":"e"},"y":{"field":"t","type":"quantitative"},"y2":{"field":"b"}}},
{"data":{"name":"bars"},"mark":{"type":"rule","strokeWidth":1},"encoding":{"x":{"field":"d","type":"temporal"},"y":{"field":"l","type":"quantitative"},"y2":{"field":"h"},"color":{"condition":{"test":"datum.c>=datum.o","value":"#26a69a"},"value":"#ef5350"}}},
{"data":{"name":"bars"},"mark":{"type":"bar","size":3.6,"orient":"vertical","strokeWidth":0.6},"encoding":{"x":{"field":"d","type":"temporal"},"y":{"field":"o","type":"quantitative"},"y2":{"field":"c"},"fill":{"condition":{"test":"datum.c>=datum.o","value":"#26a69a"},"value":"#ef5350"},"stroke":{"condition":{"test":"datum.c>=datum.o","value":"#26a69a"},"value":"#ef5350"}}},
{"data":{"name":"bars"},"mark":{"type":"rule","strokeWidth":1.1},"encoding":{"x":{"field":"d","type":"temporal"},"y":{"field":"k","type":"quantitative"},"y2":{"field":"g"},"color":{"condition":{"test":"datum.e>datum.a","value":"#1be77e"},"value":"#ff6b6b"}}},
{"data":{"name":"bars"},"mark":{"type":"bar","size":5,"orient":"vertical","strokeWidth":0.8},"encoding":{"x":{"field":"d","type":"temporal"},"y":{"field":"a","type":"quantitative"},"y2":{"field":"e"},"fill":{"condition":{"test":"datum.e>datum.a","value":"#69f0ae"},"value":"#ff9a9a"},"stroke":{"condition":{"test":"datum.e>datum.a","value":"#14e57a"},"value":"#ff6363"}}},
{"data":{"values":[{"v":152.282}]},"mark":{"type":"rule","strokeDash":[1,3],"color":"#ef5350","strokeWidth":1.2},"encoding":{"y":{"field":"v","type":"quantitative"}}},
{"data":{"name":"one"},"mark":{"type":"rect","fill":"white","stroke":"#eeeff2","strokeWidth":1.5,"cornerRadius":3},"encoding":{"x":{"datum":{"year":2025,"month":8,"date":15},"type":"temporal"},"x2":{"datum":{"year":2025,"month":9,"date":27}},"y":{"datum":175.76,"type":"quantitative"},"y2":{"datum":173.58}}},
{"data":{"name":"one"},"mark":{"type":"text","text":"JPY","align":"left","baseline":"middle","color":"#131722","fontSize":11.5,"font":"Noto Sans"},"encoding":{"x":{"datum":{"year":2025,"month":8,"date":19},"type":"temporal"},"y":{"datum":174.6,"type":"quantitative"}}},
{"data":{"name":"one"},"mark":{"type":"rect","fill":"#ef5350","cornerRadius":2},"encoding":{"x":{"datum":{"year":2025,"month":7,"date":18},"type":"temporal"},"x2":{"datum":{"year":2025,"month":8,"date":12}},"y":{"datum":152.93,"type":"quantitative"},"y2":{"datum":151.57}}},
{"data":{"name":"one"},"mark":{"type":"text","text":"USDJPY","align":"left","baseline":"middle","color":"white","fontSize":11.5,"font":"Noto Sans"},"encoding":{"x":{"datum":{"year":2025,"month":7,"date":20},"type":"temporal"},"y":{"datum":152.25,"type":"quantitative"}}},
{"data":{"name":"levels"},"mark":{"type":"bar","orient":"horizontal","size":17,"cornerRadius":2},"encoding":{"x":{"datum":{"year":2025,"month":8,"date":13},"type":"temporal"},"x2":{"datum":{"year":2025,"month":9,"date":27}},"y":{"field":"p","type":"quantitative"},"fill":{"field":"k","type":"nominal","legend":null,"scale":{"domain":["blue","slate","red"],"range":["#5b9cf6","#434651","#ef5350"]}}}},
{"data":{"name":"levels"},"mark":{"type":"text","align":"left","baseline":"middle","fontSize":11,"font":"Noto Sans"},"encoding":{"x":{"datum":{"year":2025,"month":8,"date":18},"type":"temporal"},"y":{"field":"p","type":"quantitative"},"text":{"field":"t"},"color":{"condition":{"test":"datum.k=='blue'","value":"#131722"},"value":"white"}}},
{"data":{"name":"head"},"mark":{"type":"text","align":"left","baseline":"middle","font":"Noto Sans"},"encoding":{"x":{"field":"x","type":"temporal"},"y":{"field":"y","type":"quantitative"},"text":{"field":"t"},"size":{"field":"k","type":"nominal","legend":null,"scale":{"domain":["ink","down"],"range":[11.7,11]}},"color":{"field":"k","type":"nominal","legend":null,"scale":{"domain":["ink","down"],"range":["#131722","#f7525f"]}}}},
{"data":{"name":"one"},"mark":{"type":"point","filled":true,"stroke":"#7e57c2","strokeWidth":2,"size":380,"fill":"white","opacity":1},"encoding":{"x":{"datum":{"year":2025,"month":2,"date":14},"type":"temporal"},"y":{"datum":129.06,"type":"quantitative"}}},
{"data":{"name":"one"},"mark":{"type":"text","text":"⚡","color":"#7e57c2","fontSize":12,"font":"DejaVu Sans","align":"center","baseline":"middle"},"encoding":{"x":{"datum":{"year":2025,"month":2,"date":14},"type":"temporal"},"y":{"datum":129.06,"type":"quantitative"}}},
{"data":{"name":"one"},"mark":{"type":"rect","fill":"white","fillOpacity":0,"stroke":"#f1f2f5","strokeWidth":3},"encoding":{"x":{"datum":{"year":2022,"month":12,"date":23},"type":"temporal"},"x2":{"datum":{"year":2025,"month":9,"date":30}},"y":{"datum":176.21,"type":"quantitative"},"y2":{"datum":115.73}}}
]},
{"width":1852,"height":125,"layer":[
{"data":{"name":"bars"},"mark":{"type":"line","opacity":0},"encoding":{
 "x":{"field":"d","type":"temporal","scale":{"domain":["2022-12-24","2025-08-13"],"nice":false},"title":null,"axis":{"values":["2023-01-01","2023-03-01","2023-05-01","2023-07-03","2023-09-03","2023-11-02","2024-01-01","2024-03-02","2024-05-02","2024-07-01","2024-09-01","2024-11-02","2025-01-01","2025-03-01","2025-05-01","2025-07-01"],"tickCount":40,"labelExpr":"month(datum.value)==0?timeFormat(datum.value,'%Y'):timeFormat(datum.value,'%b')","labelFontWeight":{"condition":{"test":"month(datum.value)==0","value":"bold"},"value":"normal"},"labelFontSize":12,"labelFont":"Noto Sans","labelColor":"#131722","labelOverlap":false,"ticks":false,"domainColor":"#e0e3eb","domainWidth":1.5,"grid":true,"gridColor":"#f0f1f5","gridWidth":1.2,"labelPadding":10,"labelFlush":false,"title":null}},
 "y":{"field":"r","type":"quantitative","scale":{"domain":[5.37,97.3],"nice":false,"zero":false},"title":null,"axis":{"orient":"right","values":[25,50,75],"format":".2f","grid":true,"gridColor":"#f0f1f5","gridWidth":1.2,"ticks":false,"domainColor":"#e0e3eb","domainWidth":1.5,"labelPadding":10,"labelColor":"#131722","labelFontSize":11,"labelFont":"Noto Sans","title":null}}}},
{"data":{"name":"one"},"mark":{"type":"rect","fill":"#7e57c2","opacity":0.1},"encoding":{"y":{"datum":70,"type":"quantitative"},"y2":{"datum":30}}},
{"mark":{"type":"rule","strokeDash":[5,4],"color":"#787b86","strokeWidth":1.2},"data":{"values":[{"v":70},{"v":30}]},"encoding":{"y":{"field":"v","type":"quantitative"}}},
{"mark":{"type":"rule","strokeDash":[5,4],"color":"#787b86","strokeWidth":1,"opacity":0.55},"data":{"values":[{"v":50}]},"encoding":{"y":{"field":"v","type":"quantitative"}}},
{"data":{"name":"os"},"mark":{"type":"area","color":{"x1":0,"y1":0,"x2":0,"y2":1,"gradient":"linear","stops":[{"offset":0,"color":"#ffffff"},{"offset":1,"color":"#f77c80"}]}},"encoding":{"x":{"field":"d","type":"temporal"},"y":{"field":"r","type":"quantitative"},"y2":{"datum":30}}},
{"data":{"name":"ob"},"mark":{"type":"area","color":{"x1":0,"y1":1,"x2":0,"y2":0,"gradient":"linear","stops":[{"offset":0,"color":"#ffffff"},{"offset":1,"color":"#a5d6c4"}]}},"encoding":{"x":{"field":"d","type":"temporal"},"y":{"field":"r","type":"quantitative"},"y2":{"datum":70}}},
{"data":{"name":"bars"},"mark":{"type":"line","color":"#7e57c2","strokeWidth":1.2},"encoding":{"x":{"field":"d","type":"temporal"},"y":{"field":"r","type":"quantitative"}}},
{"data":{"name":"ma"},"mark":{"type":"line","color":"#fdd835","strokeWidth":1.2,"interpolate":"monotone"},"encoding":{"x":{"field":"d","type":"temporal"},"y":{"field":"m","type":"quantitative"}}},
{"data":{"name":"rsiHead"},"mark":{"type":"text","align":"left","baseline":"middle","fontSize":11,"font":"Noto Sans"},"encoding":{"x":{"field":"x","type":"temporal"},"y":{"datum":85.7,"type":"quantitative"},"text":{"field":"t"},"color":{"field":"k","type":"nominal","legend":null,"scale":{"domain":["ink","purple","yellow"],"range":["#131722","#7e57c2","#fdd835"]}}}},
{"data":{"name":"one"},"mark":{"type":"text","text":"TradingView","align":"left","baseline":"middle","fontSize":13,"font":"Noto Sans","color":"#131722"},"encoding":{"x":{"datum":{"year":2023,"month":1,"date":5},"type":"temporal"},"y":{"datum":-30,"type":"quantitative"}}},
{"data":{"name":"one"},"mark":{"type":"point","filled":true,"size":400,"color":"#131722","opacity":1,"shape":"M-0.22 -0.44H-0.89V-0.11H-0.56V0.39H-0.22ZM0.56 0.39H0.14L0.5 -0.44H0.92ZM-0.06 -0.28A0.17 0.17 0 1 0 0.28 -0.28A0.17 0.17 0 1 0 -0.06 -0.28Z"},"encoding":{"x":{"datum":{"year":2022,"month":12,"date":29},"type":"temporal"},"y":{"datum":-30,"type":"quantitative"}}}
]}
]}
